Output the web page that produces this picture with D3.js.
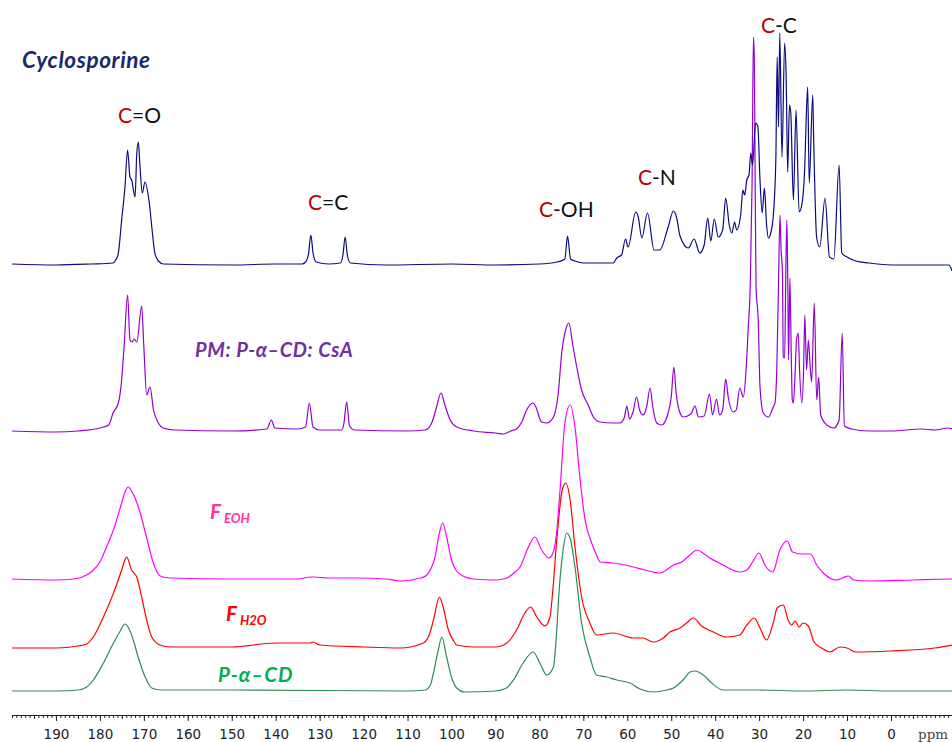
<!DOCTYPE html>
<html><head><meta charset="utf-8">
<script src="https://cdnjs.cloudflare.com/ajax/libs/d3/7.8.5/d3.min.js"></script>
<style>
html,body{margin:0;padding:0;background:#fff;}
svg{display:block;}
</style></head>
<body>
<svg id="c" width="952" height="742"></svg>
<script>
// ---------- DATA (ppm, intensity above the trace's own baseline) ----------
const seriesNames = ["Cyclosporine", "PM: P-α–CD: CsA", "FEOH", "FH2O", "P-α–CD"];

const cyclosporine = [[200,1],[190,0],[182,1],[177,2],[176.4,5],[175.8,12],[175.05,45],[174.3,78],[173.7,115],[173.15,88],[172.77,85],[172.0,68],[171.6,112],[171.25,123],[170.9,100],[170.35,72],[169.75,83],[168.85,65],[168.0,30],[167.5,12],[166.7,4],[165.5,1],[150,0],[140,1],[134,1],[133.2,3],[132.5,12],[132.0,30],[131.5,12],[130.8,3],[128,1],[125.3,2],[124.7,10],[124.2,28],[123.7,10],[123.0,2],[115,0],[100,1],[90,0],[80,1],[76,3],[74.2,6],[73.6,29],[72.9,6],[71.9,4],[70,2],[64,2],[63.2,2],[62.4,7],[61.3,10],[60.4,26],[59.8,18],[58.1,53],[57.5,48],[56.7,27],[55.4,52],[53.9,15],[52.6,15],[50.7,38],[49.5,54],[48.8,48],[48.0,29],[46.1,17],[44.8,26],[43.5,12],[42.5,20],[41.7,47],[41.0,24],[40.2,46],[39.3,28],[38.3,35],[37.6,67],[36.8,40],[36.2,32],[35.6,43],[35.1,35],[34.2,50],[33.7,75],[33.3,70],[32.8,85],[32.3,90],[31.9,112],[31.5,100],[30.8,142],[30.3,139],[29.8,85],[29.3,52],[28.8,77],[28.3,40],[27.9,27],[27.3,33],[26.8,48],[26.2,105],[25.9,208],[25.6,138],[25.3,232],[24.8,108],[24.2,222],[23.85,188],[23.5,93],[23.1,160],[22.8,152],[22.2,65],[21.6,155],[20.9,53],[20.3,60],[19.6,100],[19.3,145],[18.95,178],[18.6,82],[17.8,170],[17.6,128],[16.9,27],[16.2,18],[15.0,67],[14.0,8],[13.0,6],[11.8,100],[11.2,12],[10,8],[8,4],[5,2],[0,0],[-10,0],[-13.2,0],[-13.9,-6]];

const pmMix = [[200,1],[190,0],[185,1],[180,4],[178,7],[177.0,19],[175.8,29],[175.05,52],[174.5,85],[173.7,137],[173.15,92],[172.7,90],[172.2,93],[171.6,90],[170.5,126],[170.0,85],[169.35,37],[168.6,45],[167.8,22],[166.7,9],[165.6,4],[163,2],[150,1],[142,3],[141.0,12],[140.2,4],[135,3],[133.2,5],[132.35,29],[131.5,5],[130,2],[125,2],[124.5,8],[123.85,30],[123.2,6],[122,2],[110,1],[106,2],[104.5,9],[103.4,25],[102.4,39],[101.5,27],[100.3,12],[98.8,5],[95,1],[90,-1],[88.2,-2],[86.5,1],[85.2,3],[84,10],[82.9,22],[81.5,29],[80.8,25],[79.5,10],[78.3,9],[76.8,15],[75.7,39],[74.9,80],[74.2,99],[73.3,109],[72.4,87],[71.5,65],[70.4,42],[68.9,27],[67.7,15],[66.2,10],[63.2,9],[61.7,9],[60.7,14],[60.1,26],[59.5,13],[58.7,20],[57.9,35],[57.2,22],[56.4,17],[55.6,25],[54.8,44],[54.2,25],[53.3,9],[52.2,7],[50.7,19],[50.0,35],[49.4,65],[48.9,40],[48.4,25],[47.3,15],[45.5,18],[44.6,26],[43.8,15],[42.5,16],[41.3,38],[40.6,17],[39.7,33],[39.0,17],[38.3,22],[37.6,53],[37.0,34],[35.9,20],[35.2,22],[34.4,44],[33.6,35],[33.0,60],[32.5,102],[32.0,150],[31.6,250],[31.3,395],[31.1,375],[30.9,250],[30.7,145],[30.2,112],[29.8,45],[29.05,19],[27.9,15],[26.8,25],[26.4,29],[26.0,60],[25.6,145],[25.25,217],[25.0,182],[24.7,160],[24.5,75],[24.2,74],[23.95,150],[23.7,212],[23.5,159],[23.3,72],[23.0,154],[22.7,80],[22.45,32],[22.2,29],[21.8,60],[21.5,92],[21.1,99],[20.8,62],[20.3,29],[19.9,60],[19.6,117],[19.2,62],[18.8,92],[18.4,67],[18.05,50],[17.45,129],[16.9,32],[16.45,55],[16.0,17],[14.6,7],[13,4],[11.8,12],[11.1,99],[10.6,6],[9,3],[5,1],[0,1],[-7,3],[-10,2],[-13,4],[-14,3]];

const fEOH = [[200,0],[190,-1],[186,0],[184,2],[182,7],[180,17],[178.5,32],[177,48],[175.05,76],[174.2,88],[173.5,92],[172.8,88],[172.0,81],[170.9,67],[169.35,41],[167.85,16],[166.3,3],[164,1],[150,0],[135,0],[132,2],[131.4,2],[128,1],[121,1],[115,0],[111.7,-2],[107,1],[105.6,4],[104.5,12],[103.75,22],[102.8,45],[102.0,56],[101.1,42],[100.0,19],[99,9],[98.1,5],[95,0],[90,-1],[87.4,1],[85.8,6],[84.4,12],[82.5,32],[81.0,42],[79.5,29],[77.8,21],[76.7,29],[76.0,50],[75.3,89],[74.2,156],[73.0,174],[71.9,152],[70.8,102],[69.6,59],[68.1,36],[67,24],[66.2,17],[63.2,16],[58.6,12],[56,9],[54.1,7],[52.6,6],[50.5,11],[49.5,14],[47.6,17],[46,23],[44.1,29],[42.5,25],[41.2,21],[38.2,14],[34.4,7],[32.8,9],[31.5,17],[30.0,26],[28.7,14],[26.9,7],[25.3,29],[23.6,38],[22.4,27],[20.3,25],[18.3,25],[16.9,14],[15.4,6],[12.4,-1],[11,1],[9.7,3],[8.5,-1],[5,-2],[-5,-1],[-14,0]];

const fH2O = [[200,0],[190,0],[185,2],[183,4],[181.5,11],[179.2,31],[176.9,55],[175.05,78],[174.4,87],[173.9,91],[172.8,78],[171.6,71],[170.5,51],[169.35,28],[168.2,11],[166.3,3],[164,1],[150,1],[140,5],[135,5],[132.2,5],[131.5,6],[130,3],[120,1],[111.7,0],[106.4,5],[105,14],[104.1,28],[102.75,51],[101.9,41],[100.7,18],[99.5,7],[98.8,3],[95,1],[90,1],[87.4,5],[85.2,18],[83.3,35],[82.0,41],[80.6,31],[78.7,22],[77.6,31],[76.9,60],[76.1,105],[74.8,158],[74.0,165],[73.0,148],[71.9,101],[70.4,51],[68.5,25],[67.0,13],[63.2,15],[58.6,10],[56.5,10],[54.1,6],[51.8,10],[50.3,16],[48.0,20],[46.5,25],[45.0,30],[43.1,22],[40.4,16],[37.4,11],[34.4,13],[32.8,23],[31.1,30],[29.8,20],[28.3,8],[26.8,25],[25.9,40],[24.5,43],[23.4,28],[22.6,23],[21.8,27],[20.9,21],[20.0,25],[18.8,22],[17.5,6],[15.8,0],[13.9,-4],[11.6,1],[10,0],[8,-4],[0,-3],[-10,0],[-14,3]];

const pAlphaCD = [[200,-1],[190,-1],[185,0],[183,3],[181.5,10],[179.2,27],[176.9,47],[175.5,58],[174.3,66],[173.6,63],[172.4,50],[171.3,33],[169.7,13],[168.2,2],[166,0],[150,0],[110,-1],[106,0],[104.8,5],[104.1,17],[103.0,40],[102.2,53],[101.1,33],[100.0,13],[98.8,2],[97,-2],[90,-1],[87.5,2],[85.9,10],[83.7,27],[81.4,38],[79.9,27],[78.3,15],[76.8,23],[76.2,50],[75.5,100],[74.6,140],[73.8,157],[72.9,150],[71.9,123],[70.4,67],[68.5,33],[67.0,15],[64.7,13],[62.4,10],[59.4,7],[57.1,1],[54,-2],[51,0],[49.5,2],[47.3,10],[45.7,18],[44.6,19],[42.7,15],[40.8,7],[38.2,0],[30,0],[20,-1],[10,0],[0,-1],[-14,-1]];

const majorTicks = [190,180,170,160,150,140,130,120,110,100,90,80,70,60,50,40,30,20,10,0];
const tickLabels = majorTicks.map(String);

// ---------- LAYOUT / STYLE ----------
const svg = d3.select("#c");
const x = d3.scaleLinear().domain([200, -14]).range([12, 952.5]);
const y = d3.scaleLinear().domain([0, 715]).range([715, 0]);

const traces = [
  {data: cyclosporine, offset: 450, color: "#0c0c82"},
  {data: pmMix,        offset: 283, color: "#9400d3"},
  {data: fEOH,         offset: 136, color: "#ff00ff"},
  {data: fH2O,         offset: 67,  color: "#ff0000"},
  {data: pAlphaCD,     offset: 25,  color: "#2e8b57"}
];

traces.slice().reverse().forEach(t => {
  const line = d3.line()
    .x(d => x(d[0]))
    .y(d => y(t.offset + d[1]))
    .curve(d3.curveMonotoneX);
  svg.append("path").datum(t.data)
    .attr("d", line)
    .attr("fill", "none")
    .attr("stroke", t.color)
    .attr("stroke-width", 1.2)
    .attr("stroke-linejoin", "round");
});

// ---------- AXIS ----------
const axisG = svg.append("g").attr("transform", "translate(0,715)");
axisG.call(d3.axisBottom(x).tickValues(d3.range(200, -14.5, -1)).tickSize(3).tickSizeOuter(0).tickFormat(""));
const midG = svg.append("g").attr("transform", "translate(0,715)");
midG.call(d3.axisBottom(x).tickValues(d3.range(195, -14, -10)).tickSize(4).tickSizeOuter(0).tickFormat(""));
midG.select(".domain").remove();
const majG = svg.append("g").attr("transform", "translate(0,715)");
majG.call(d3.axisBottom(x).tickValues(majorTicks).tickSize(6).tickSizeOuter(0).tickPadding(8)
  .tickFormat((d,i) => tickLabels[i]));
majG.select(".domain").remove();
svg.selectAll("g .tick line").attr("stroke", "#222");
axisG.select(".domain").attr("stroke", "#222");
majG.selectAll("text").attr("font-family", "DejaVu Sans").attr("font-size", 13.5).attr("fill", "#222");
svg.append("text").attr("x", 918).attr("y", 738.5)
  .attr("font-family", "DejaVu Serif").attr("font-size", 13.5).attr("fill", "#444").text("ppm");

// ---------- LABELS ----------
const lab = "Lato, 'Open Sans', sans-serif";
svg.append("text").attr("x", 22).attr("y", 68)
  .attr("font-family", lab).attr("font-weight", 700).attr("font-style", "italic")
  .attr("font-size", 22.5).attr("letter-spacing", 0.6).attr("fill", "#15296b").text(seriesNames[0]);

const groups = [
  {t: "=O", px: 118, py: 123},
  {t: "=C", px: 308, py: 210},
  {t: "-OH", px: 539, py: 217},
  {t: "-N", px: 638, py: 185},
  {t: "-C", px: 761, py: 33}
];
groups.forEach(g => {
  const tx = svg.append("text").attr("x", g.px).attr("y", g.py)
    .attr("font-family", lab).attr("font-size", 21);
  tx.append("tspan").attr("fill", "#c00000").text("C");
  tx.append("tspan").attr("fill", "#111").text(g.t);
});

svg.append("text").attr("x", 195).attr("y", 357)
  .attr("font-family", lab).attr("font-weight", 700).attr("font-style", "italic")
  .attr("font-size", 20).attr("letter-spacing", 0.6).attr("fill", "#7030a0").text(seriesNames[1]);

function subLabel(px, py, color, main, sub) {
  const tx = svg.append("text").attr("x", px).attr("y", py)
    .attr("font-family", lab).attr("font-weight", 700).attr("font-style", "italic").attr("fill", color);
  tx.append("tspan").attr("font-size", 20.5).text(main);
  tx.append("tspan").attr("font-size", 13).attr("dx", 3).attr("dy", 4).text(sub);
}
subLabel(210, 519, "#ff3399", "F", "EOH");
subLabel(226, 621, "#ff0000", "F", "H2O");

svg.append("text").attr("x", 218).attr("y", 682)
  .attr("font-family", lab).attr("font-weight", 700).attr("font-style", "italic")
  .attr("font-size", 20.5).attr("letter-spacing", 1).attr("fill", "#00b050").text(seriesNames[4]);
</script>
</body></html>
